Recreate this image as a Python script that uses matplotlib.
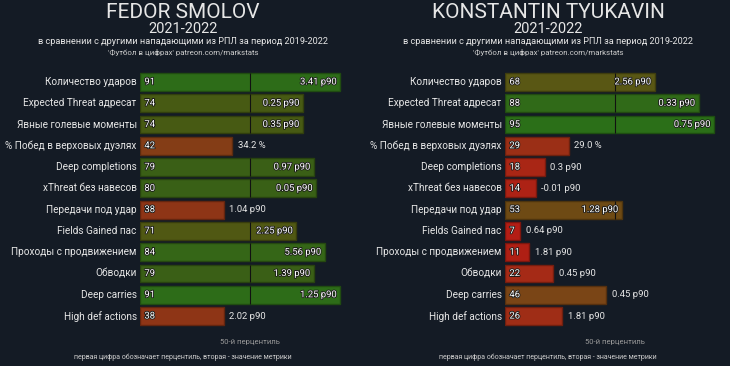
import numpy as np
import matplotlib.pyplot as plt
import matplotlib.patheffects as pe
from matplotlib.colors import LinearSegmentedColormap, to_rgb

plt.rcParams['font.family'] = ['Roboto', 'DejaVu Sans']

metrics = ["Количество ударов", "Expected Threat адресат", "Явные голевые моменты",
           "% Побед в верховых дуэлях", "Deep completions", "xThreat без навесов",
           "Передачи под удар", "Fields Gained пас", "Проходы с продвижением",
           "Обводки", "Deep carries", "High def actions"]

smolov_pct = [91, 74, 74, 42, 79, 80, 38, 71, 84, 79, 91, 38]
smolov_val = ["3.41 p90", "0.25 p90", "0.35 p90", "34.2 %", "0.97 p90", "0.05 p90",
              "1.04 p90", "2.25 p90", "5.56 p90", "1.39 p90", "1.25 p90", "2.02 p90"]

tyukavin_pct = [68, 88, 95, 29, 18, 14, 53, 7, 11, 22, 46, 26]
tyukavin_val = ["2.56 p90", "0.33 p90", "0.75 p90", "29.0 %", "0.3 p90", "-0.01 p90",
                "1.28 p90", "0.64 p90", "1.81 p90", "0.45 p90", "0.45 p90", "1.81 p90"]

players = [("FEDOR SMOLOV", smolov_pct, smolov_val),
           ("KONSTANTIN TYUKAVIN", tyukavin_pct, tyukavin_val)]

bg = "#141b25"
txt = "#e6e6e6"
cmap = LinearSegmentedColormap.from_list(
    "pct", [(0.0, "#b81c16"), (0.1, "#b01e14"), (0.22, "#a52a16"), (0.38, "#8e3516"),
            (0.46, "#7a4516"), (0.53, "#6e4a14"), (0.68, "#5a5714"), (0.72, "#4c5812"),
            (0.79, "#3a5f16"), (0.84, "#356617"), (0.91, "#2d6c18"), (1.0, "#287219")])

W, H = 730, 366
fig = plt.figure(figsize=(W / 100, H / 100), dpi=100)
fig.patch.set_facecolor(bg)

panel_w = 365
for p, (name, pct, vals) in enumerate(players):
    x0 = p * panel_w
    cx = (x0 + 183) / W

    fig.text(cx, 1 - 13 / H, name, ha="center", va="center", fontsize=15, color=txt)
    fig.text(cx, 1 - 29 / H, "2021-2022", ha="center", va="center", fontsize=10.5, color=txt)
    fig.text(cx, 1 - 41 / H, "в сравнении с другими нападающими из РПЛ за период 2019-2022",
             ha="center", va="center", fontsize=6.6, color=txt)
    fig.text(cx, 1 - 52 / H, "'Футбол в цифрах' patreon.com/markstats",
             ha="center", va="center", fontsize=5.7, color="#cccccc")
    fig.text((x0 + 250) / W, 1 - 342 / H, "50-й перцентиль",
             ha="center", va="center", fontsize=5.5, color="#9a9a9a")
    fig.text(cx, 1 - 357 / H, "первая цифра обозначает перцентиль, вторая - значение метрики",
             ha="center", va="center", fontsize=5, color="#cccccc")

    top, bottom = 71.3, 326.7
    ax = fig.add_axes([(x0 + 140) / W, 1 - bottom / H, 220 / W, (bottom - top) / H])
    ax.set_facecolor(bg)
    ax.set_xlim(0, 100)
    ax.set_ylim(len(metrics) - 0.5, -0.5)
    ax.axis("off")

    y = np.arange(len(metrics))
    colors = [cmap(v / 100) for v in pct]
    edges = [tuple(c * 0.7 for c in to_rgb(col)) for col in colors]
    ax.barh(y, pct, height=0.84, color=colors, edgecolor=edges, linewidth=1, zorder=2)

    # 50th percentile marker, visible only where a bar crosses it
    over = y[np.array(pct) > 50]
    ax.vlines(np.full(len(over), 50), over - 0.42, over + 0.42,
              color="#111111", linewidth=0.8, zorder=3)

    stroke = [pe.withStroke(linewidth=1.2, foreground="#1a1a1a")]
    for i, (m, v, s) in enumerate(zip(metrics, pct, vals)):
        ax.text(-1.5, i, m, ha="right", va="center", fontsize=7.2, color=txt)
        ax.text(2, i, str(v), ha="left", va="center", fontsize=6.8, color="white",
                path_effects=stroke, zorder=4)
        if v >= 50:
            ax.text(v - 1.5, i, s, ha="right", va="center", fontsize=6.8, color="white",
                    path_effects=stroke, zorder=4)
        else:
            ax.text(v + 2.5, i, s, ha="left", va="center", fontsize=6.8, color=txt, zorder=4)

fig.savefig("out.png", dpi=100, facecolor=bg)
